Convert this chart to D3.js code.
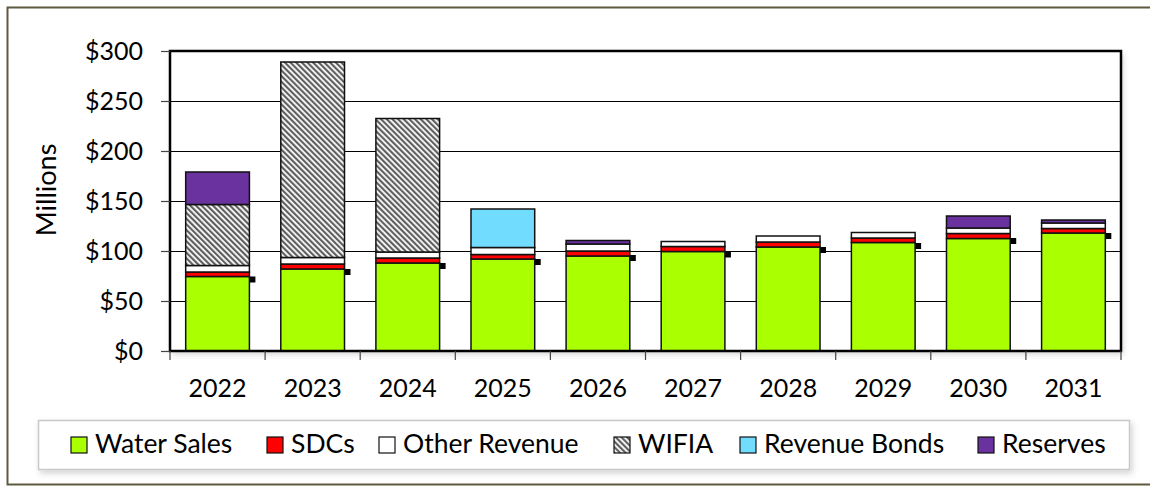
<!DOCTYPE html>
<html>
<head>
<meta charset="utf-8">
<script src="https://cdn.jsdelivr.net/npm/d3@7"></script>
<style>
  body { margin: 0; background: #fff; }
  text { font-family: Lato, "Open Sans", sans-serif; fill: #000; }
</style>
</head>
<body>
<div id="wrapper"></div>
<script>
// data (millions of dollars)
const years = ["2022", "2023", "2024", "2025", "2026", "2027", "2028", "2029", "2030", "2031"];
const waterSales   = [74.5, 82, 88, 92, 95, 99.5, 104, 108.5, 112.5, 118];
const sdcs         = [4.5, 5, 5, 4.5, 5, 5, 5, 4.5, 5, 4.5];
const otherRevenue = [6.5, 6.5, 6, 7, 7, 5, 6, 5.5, 5.5, 5.5];
const wifia        = [61, 195.5, 133.5, 0, 0, 0, 0, 0, 0, 0];
const revenueBonds = [0, 0, 0, 38.5, 0, 0, 0, 0, 0, 0];
const reserves     = [32.5, 0, 0, 0, 3.5, 0, 0, 0, 12, 3];
const markerValues = [71.5, 79, 85, 89, 93, 96.5, 101, 105, 110, 115];
const yTicks = [0, 50, 100, 150, 200, 250, 300];

const seriesNames = ["Water Sales", "SDCs", "Other Revenue", "WIFIA", "Revenue Bonds", "Reserves"];
const seriesData = [waterSales, sdcs, otherRevenue, wifia, revenueBonds, reserves];
const seriesFill = ["#AAFF00", "#FF0000", "#FFFFFF", "url(#hatch)", "#72DCFF", "#6A329F"];

const dimension = {
    width: 1150,
    height: 487,
    margin: { top: 51, left: 170, bottom: 136, right: 29 }
};
dimension.boundedWidth = dimension.width - dimension.margin.left - dimension.margin.right;
dimension.boundedHeight = dimension.height - dimension.margin.top - dimension.margin.bottom;

const svg = d3.select("#wrapper")
    .append("svg")
    .attr("width", dimension.width)
    .attr("height", dimension.height);

const defs = svg.append("defs");
const hatch = defs.append("pattern")
    .attr("id", "hatch")
    .attr("patternUnits", "userSpaceOnUse")
    .attr("width", 4)
    .attr("height", 4)
    .attr("patternTransform", "rotate(-45)");
hatch.append("rect").attr("width", 4).attr("height", 4).attr("fill", "#fff");
hatch.append("rect").attr("width", 2.2).attr("height", 4).attr("fill", "#5f5f5f");

const shadow = defs.append("filter").attr("id", "shadow")
    .attr("x", "-5%").attr("y", "-10%").attr("width", "110%").attr("height", "130%");
shadow.append("feDropShadow")
    .attr("dx", 2).attr("dy", 3).attr("stdDeviation", 3)
    .attr("flood-color", "#000").attr("flood-opacity", 0.18);

// outer frame
svg.append("rect")
    .attr("x", 7.5).attr("y", 7.5)
    .attr("width", 1160).attr("height", 477)
    .attr("fill", "#fff")
    .attr("stroke", "#5e5a3e")
    .attr("stroke-width", 2);

const bounds = svg.append("g")
    .attr("transform", `translate(${dimension.margin.left},${dimension.margin.top})`);

const xScaler = d3.scaleBand()
    .domain(years)
    .range([0, dimension.boundedWidth])
    .paddingInner(0.33)
    .paddingOuter(0.165);

const yScaler = d3.scaleLinear()
    .domain([0, 300])
    .range([dimension.boundedHeight, 0]);

// plot area background with shadow
bounds.append("rect")
    .attr("width", dimension.boundedWidth)
    .attr("height", dimension.boundedHeight)
    .attr("fill", "#fff")
    .attr("filter", "url(#shadow)");

// gridlines
bounds.append("g")
    .selectAll("line")
    .data(yTicks.slice(1, -1))
    .enter()
    .append("line")
    .attr("x1", 0)
    .attr("x2", dimension.boundedWidth)
    .attr("y1", d => Math.round(yScaler(d)) + 0.5)
    .attr("y2", d => Math.round(yScaler(d)) + 0.5)
    .attr("stroke", "#000")
    .attr("stroke-width", 1.2);

// markers (drawn behind bars)
bounds.append("g")
    .selectAll("rect")
    .data(markerValues)
    .enter()
    .append("rect")
    .attr("x", (d, i) => xScaler(years[i]) + xScaler.bandwidth() - 1)
    .attr("y", d => yScaler(d) - 3)
    .attr("width", 7)
    .attr("height", 6)
    .attr("fill", "#000");

// stacked bars
const table = years.map((y, i) => {
    const row = { year: y };
    seriesNames.forEach((s, j) => row[s] = seriesData[j][i]);
    return row;
});
const stacked = d3.stack().keys(seriesNames)(table);

const layers = bounds.append("g")
    .selectAll("g")
    .data(stacked)
    .enter()
    .append("g")
    .attr("fill", (d, i) => seriesFill[i]);

layers.selectAll("rect")
    .data(d => d.filter(p => p[1] - p[0] > 0))
    .enter()
    .append("rect")
    .attr("x", d => xScaler(d.data.year))
    .attr("y", d => yScaler(d[1]))
    .attr("width", xScaler.bandwidth())
    .attr("height", d => yScaler(d[0]) - yScaler(d[1]))
    .attr("stroke", "#111")
    .attr("stroke-width", 1.5);

// plot frame
bounds.append("rect")
    .attr("width", dimension.boundedWidth)
    .attr("height", dimension.boundedHeight)
    .attr("fill", "none")
    .attr("stroke", "#000")
    .attr("stroke-width", 2.5);

// y axis
const yAxisGen = d3.axisLeft(yScaler)
    .tickValues(yTicks)
    .tickSize(9)
    .tickPadding(18)
    .tickFormat(d => "$" + d);
const yAxis = bounds.append("g").call(yAxisGen);
yAxis.select(".domain").remove();
yAxis.selectAll(".tick line").attr("stroke", "#444").attr("stroke-width", 1.2);
yAxis.selectAll("text")
    .attr("font-size", "25px")
    .attr("font-family", "Lato, sans-serif");

// x axis: ticks between categories
const xAxis = bounds.append("g")
    .attr("transform", `translate(0,${dimension.boundedHeight})`);
const boundaries = d3.range(years.length + 1).map(i => i * dimension.boundedWidth / years.length);
xAxis.selectAll("line")
    .data(boundaries)
    .enter()
    .append("line")
    .attr("x1", d => d)
    .attr("x2", d => d)
    .attr("y1", 0)
    .attr("y2", 9)
    .attr("stroke", "#444")
    .attr("stroke-width", 1.2);
xAxis.selectAll("text")
    .data(years)
    .enter()
    .append("text")
    .attr("x", d => xScaler(d) + xScaler.bandwidth() / 2)
    .attr("y", 46)
    .attr("text-anchor", "middle")
    .attr("font-size", "25px")
    .text(d => d);

// y label
svg.append("text")
    .attr("transform", "translate(56,190) rotate(-90)")
    .attr("text-anchor", "middle")
    .attr("font-size", "27px")
    .text("Millions");

// legend
const legend = svg.append("g");
legend.append("rect")
    .attr("x", 38.5).attr("y", 420.5)
    .attr("width", 1091).attr("height", 49)
    .attr("fill", "#fff")
    .attr("stroke", "#c8c8c8")
    .attr("stroke-width", 1.5)
    .attr("filter", "url(#shadow)");

const legendX = [71, 267, 379, 614, 740, 978];
const items = legend.selectAll("g.item")
    .data(seriesNames)
    .enter()
    .append("g")
    .attr("class", "item")
    .attr("transform", (d, i) => `translate(${legendX[i]},437)`);
items.append("rect")
    .attr("width", 16)
    .attr("height", 16)
    .attr("fill", (d, i) => seriesFill[i])
    .attr("stroke", "#111")
    .attr("stroke-width", 1.2);
items.append("text")
    .attr("x", 24)
    .attr("y", 16)
    .attr("font-size", "26.5px")
    .text(d => d);
</script>
</body>
</html>
